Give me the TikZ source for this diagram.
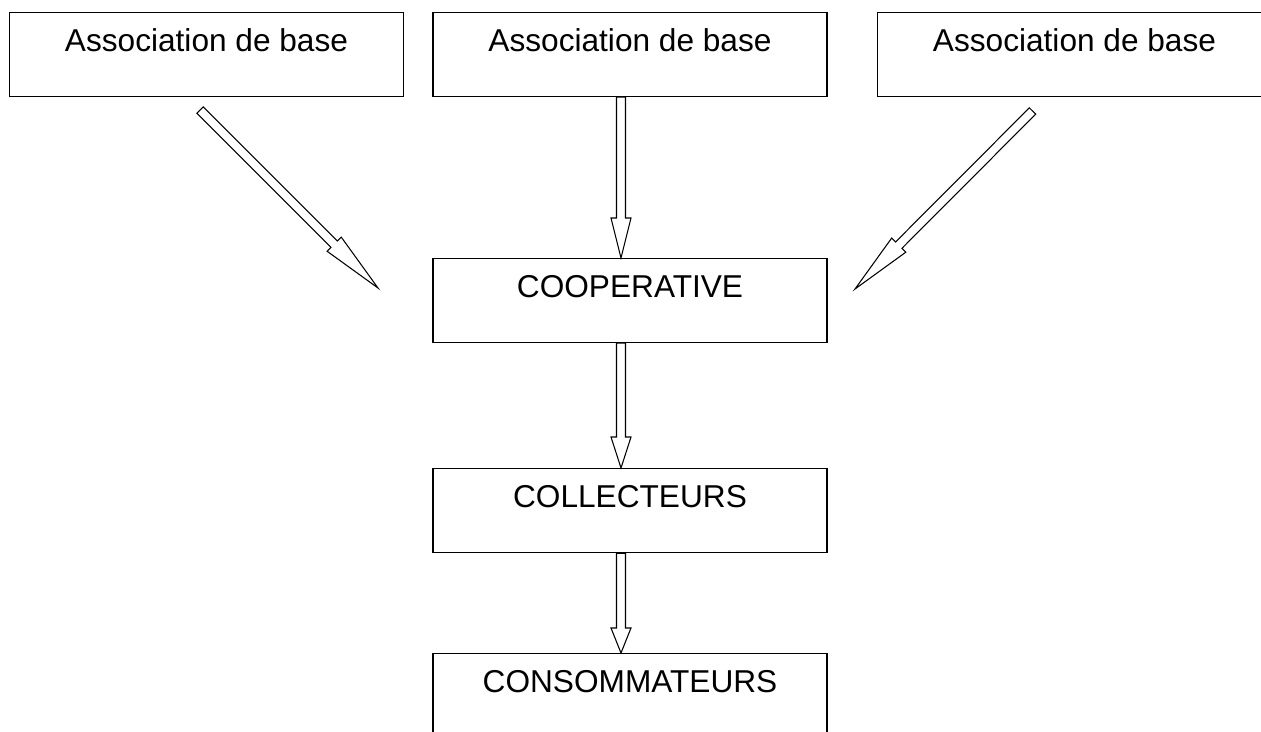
\documentclass[tikz,border=0pt]{standalone}
\usepackage{fontspec}
\setmainfont{Liberation Sans}
\usetikzlibrary{calc}

\tikzset{
  box/.style={draw, line width=0.7pt, inner sep=0pt, anchor=north,
    minimum width=7.88cm, text height=0.78cm, text depth=0.9cm,
    font=\fontsize{18}{20}\selectfont},
  flowline/.style={draw, line width=0.6pt, fill=white, line join=miter},
}

% hollow block arrow: tail, tip, head length
\newcommand{\flowarrow}[3]{%
  \coordinate (hb) at ($(#2)!#3!(#1)$);
  \draw[flowline] ($(#1)!0.09cm!90:(#2)$) -- ($(hb)!0.09cm!90:(#2)$)
    -- ($(hb)!0.2cm!90:(#2)$) -- (#2)
    -- ($(hb)!0.2cm!-90:(#2)$) -- ($(hb)!0.09cm!-90:(#2)$)
    -- ($(#1)!0.09cm!-90:(#2)$) -- cycle;
}

\begin{document}
\begin{tikzpicture}[x=0.02cm, y=-0.02cm]
  \useasboundingbox (0,0) rectangle (1261,731);
  \clip (0,0) rectangle (1261,731);
  \node[box] (base1) at (206.5,12) {Association de base};
  \node[box] (base2) at (630,12) {Association de base};
  \node[box] (base3) at (1074.5,12) {Association de base};
  \node[box] (coop) at (630,258) {COOPERATIVE};
  \node[box] (coll) at (630,468) {COLLECTEURS};
  \node[box] (cons) at (630,653) {CONSOMMATEURS};

  \coordinate (tailA) at (200,110);
  \coordinate (tipA) at (378,288);
  \coordinate (tailC) at (1032.5,111);
  \coordinate (tipC) at (855,289);
  \coordinate (tailB) at ($(base2.south)+(-9,0)$);
  \coordinate (tipB) at ($(coop.north)+(-9,0)$);
  \coordinate (tailD) at ($(coop.south)+(-9,0)$);
  \coordinate (tipD) at ($(coll.north)+(-9,0)$);
  \coordinate (tailE) at ($(coll.south)+(-9,0)$);
  \coordinate (tipE) at ($(cons.north)+(-9,0)$);

  \flowarrow{tailA}{tipA}{1.24cm}
  \flowarrow{tailB}{tipB}{0.8cm}
  \flowarrow{tailC}{tipC}{1.24cm}
  \flowarrow{tailD}{tipD}{0.62cm}
  \flowarrow{tailE}{tipE}{0.5cm}
\end{tikzpicture}
\end{document}
